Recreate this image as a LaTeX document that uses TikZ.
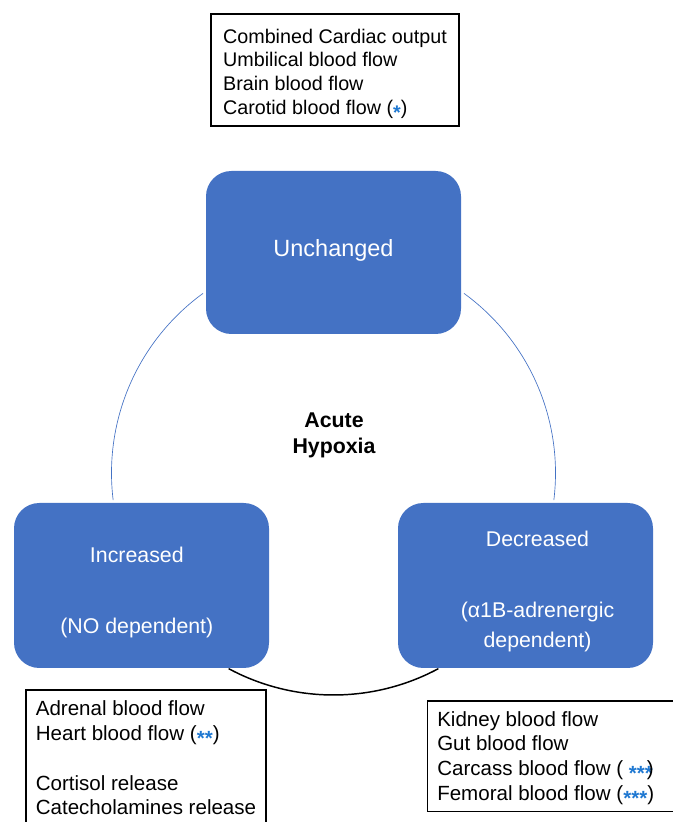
\documentclass[tikz,border=0pt]{standalone}
\usepackage{fontspec}
\setmainfont{Liberation Sans}
\usetikzlibrary{calc}
\definecolor{boxblue}{HTML}{4472C4}
\definecolor{starblue}{HTML}{1F78D1}
\newcommand{\stars}[1]{\textcolor{starblue}{\raisebox{-0.25em}{\bfseries #1}}}
\tikzset{
  statebox/.style={fill=boxblue,rounded corners=19pt,minimum width=191.25pt,minimum height=123.75pt},
  statetext/.style={text=white,align=center,font=\fontsize{16}{22.5}\selectfont},
  listbox/.style={draw,line width=1pt,inner sep=0pt},
  listtext/.style={align=left,inner sep=0pt,font=\fontsize{15.4}{18.6}\selectfont},
  ringline/.style={boxblue,line width=0.5pt}
}
\begin{document}
\begin{tikzpicture}[x=0.75pt,y=0.75pt]
\useasboundingbox (0,0) rectangle (672,822);
% unchanged list
\node[listbox,minimum width=186pt,minimum height=84pt] (unchlist) at (335,752) {};
\node[listtext,font=\fontsize{14.8}{17.8}\selectfont,yshift=-3pt] (unchitems) at (unchlist.center) {Combined Cardiac output\\Umbilical blood flow\\Brain blood flow\\Carotid blood flow (\stars{*})};
% three states
\node[statebox,minimum height=122.25pt] (unch) at (333.5,569.5) {};
\node[statetext,font=\fontsize{17.6}{21}\selectfont,yshift=1.75pt] (unchtext) at (unch.center) {Unchanged};
\node[statebox] (incr) at (141.5,236.5) {};
\node[statetext,xshift=-3.5pt,yshift=-5.25pt] (incrtext) at (incr.center) {Increased\\[31pt](NO dependent)};
\node[statebox] (decr) at (525.5,236.5) {};
\node[statetext,xshift=9pt,yshift=-4.5pt] (decrtext) at (decr.center) {Decreased\\[31pt](α1B-adrenergic\\dependent)};
\node[font=\bfseries\fontsize{16}{20}\selectfont,align=center] (hyp) at (334,386.5) {Acute\\Hypoxia};
% ring round the centre
\coordinate (ringc) at (333.5,349);
\draw[ringline] ($(ringc)+(126:166.5pt)$) arc[start angle=126,end angle=187,radius=166.5pt];
\draw[ringline] ($(ringc)+(54:166.5pt)$) arc[start angle=54,end angle=-7,radius=166.5pt];
\draw[line width=1.1pt] ($(ringc)+(241.8:166.5pt)$) arc[start angle=241.8,end angle=298.2,radius=166.5pt];
% increased and decreased lists
\node[listbox,minimum width=180pt,minimum height=102pt] (incrlist) at (146,64) {};
\node[listtext] (incritems) at (incrlist.center) {Adrenal blood flow\\Heart blood flow (\stars{**})\\\mbox{}\\Cortisol release\\Catecholamines release};
\node[listbox,anchor=west,minimum width=215pt,minimum height=83pt] (decrlist) at (427,65.5) {};
\node[listtext,anchor=west,yshift=-1.5pt] (decritems) at ([xshift=7.5pt]decrlist.west) {Kidney blood flow\\Gut blood flow\\Carcass blood flow (\ \stars{***}\kern-0.3em)\\Femoral blood flow (\stars{***})};
\end{tikzpicture}
\end{document}
